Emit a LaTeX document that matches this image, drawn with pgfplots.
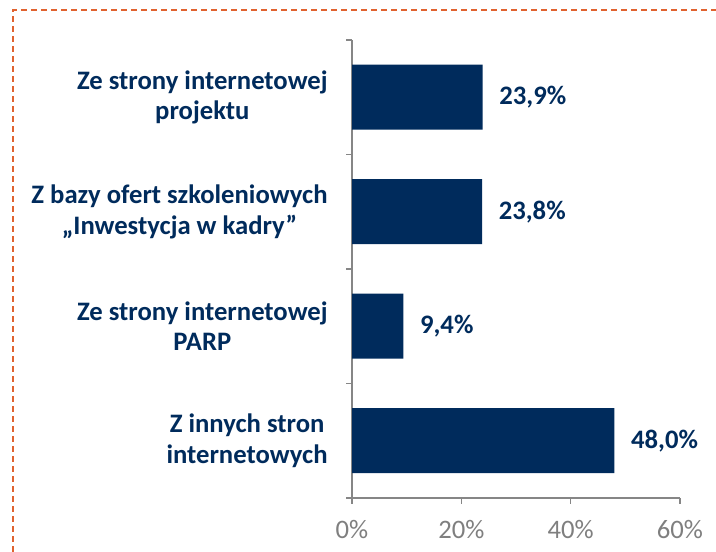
\documentclass[border=0pt]{standalone}
\usepackage{pgfplots}
\pgfplotsset{compat=1.18}
\usepackage{fontspec}
\setmainfont{Carlito}
\definecolor{navy}{HTML}{002B5C}
\definecolor{axgray}{HTML}{868686}
\definecolor{tickgray}{HTML}{7F7F7F}
\definecolor{bordercol}{HTML}{E0622F}
\begin{document}
\begin{tikzpicture}
\useasboundingbox (0,0) rectangle (537pt,414pt);
\draw[bordercol, line width=1.1pt, dash pattern=on 4.5pt off 3pt] (9.75pt,0) -- (9.75pt,406.5pt) -- (537pt,406.5pt);
\begin{axis}[
  at={(264pt,40.5pt)}, anchor=south west,
  xbar, scale only axis, width=246pt, height=343.5pt,
  xmin=0, xmax=60, ymin=-0.5, ymax=3.5,
  bar width=48.75pt,
  axis x line*=bottom, axis y line*=left,
  axis line style={axgray, line width=1.1pt},
  tick align=outside,
  tick style={axgray, line width=1.1pt},
  /pgf/number format/assume math mode=true,
  xtick={0,20,40,60},
  xticklabel={\pgfmathprintnumber{\tick}\%},
  xticklabel style={text=tickgray, font=\fontsize{20}{23}\selectfont, yshift=-9pt},
  major tick length=4.5pt,
  ytick={-0.5,0.5,1.5,2.5,3.5},
  yticklabels={},
  extra y ticks={0,1,2,3},
  extra y tick labels={{Z innych stron\\internetowych},{Ze strony internetowej\\PARP},{Z bazy ofert szkoleniowych\\„Inwestycja w kadry”},{Ze strony internetowej\\projektu}},
  extra y tick style={major tick length=0pt, tick style={draw=none},
    yticklabel style={align=center, text=navy, font=\bfseries\fontsize{20}{23}\selectfont, xshift=-14.75pt}},
  nodes near coords={\pgfmathprintnumber[fixed,fixed zerofill,precision=1,use comma]{\pgfplotspointmeta}\%},
  point meta=explicit,
  nodes near coords style={anchor=west, text=navy, font=\bfseries\fontsize{20}{23}\selectfont, xshift=9pt},
]
\addplot[fill=navy, draw=none] coordinates {
  (48.0,0) [48.0]
  (9.4,1) [9.4]
  (23.8,2) [23.8]
  (23.9,3) [23.9]
};
\end{axis}
\end{tikzpicture}
\end{document}
